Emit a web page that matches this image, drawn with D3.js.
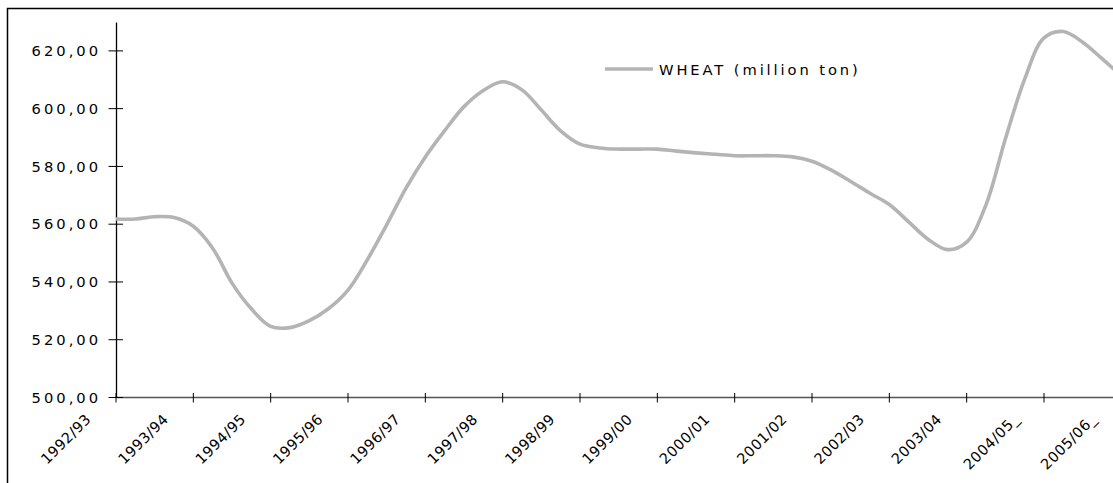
<!DOCTYPE html>
<html>
<head>
<meta charset="utf-8">
<script src="https://cdn.jsdelivr.net/npm/d3@7"></script>
<style>
  html, body { margin: 0; padding: 0; background: #fff; }
  svg { display: block; }
  text { font-family: "DejaVu Sans", Verdana, sans-serif; fill: #000; }
</style>
</head>
<body>
<svg id="chart" width="1113" height="483"></svg>
<script>
// Category labels (one per tick)
const categories = ["1992/93","1993/94","1994/95","1995/96","1996/97","1997/98","1998/99",
                    "1999/00","2000/01","2001/02","2002/03","2003/04","2004/05_","2005/06_"];
// Y-axis tick values
const yTicks = [500, 520, 540, 560, 580, 600, 620];
// Wheat production (million ton), read at quarter-category steps from 1992/93
const wheat = [
  561.8, 561.8, 562.6, 562.3,
  559.3, 551.7, 539.6, 530.7,
  524.6, 524.2, 526.6, 530.8,
  537.2, 547.7, 559.8, 572.5,
  583.3, 592.4, 600.7, 606.3,
  609.3, 606.5, 599.5, 592.3,
  587.7, 586.4, 586.0, 586.0,
  586.0, 585.3, 584.7, 584.2,
  583.7, 583.7, 583.7, 583.3,
  581.8, 578.7, 574.8, 570.7,
  566.8, 560.8, 554.8, 551.2,
  553.8, 566.7, 589.5, 610.2,
  624.5, 626.7, 623.0, 617.3,
  611.4
];
const stepsPerCategory = 4;
const seriesName = "WHEAT (million ton)";

const W = 1113, H = 483;
const svg = d3.select("#chart");

// category index -> pixel (1992/93 at the y axis, 2004/05_ at 1044; 2005/06_ just past the right edge)
const x = d3.scaleLinear().domain([0, 12]).range([116, 1044]);
const y = d3.scaleLinear().domain([500, 630]).range([397.5, 22]);

// outer frame (right and bottom edges fall outside the picture)
svg.append("rect").attr("x", 7.5).attr("y", 8.5).attr("width", 1300).attr("height", 700)
  .attr("fill", "none").attr("stroke", "#000").attr("stroke-width", 1.5);

// X axis line
svg.append("line").attr("x1", 116).attr("x2", W).attr("y1", y(500)).attr("y2", y(500))
  .attr("stroke", "#555").attr("stroke-width", 1.3);

const visible = categories.map((c, i) => i).filter(i => x(i) <= W);

// X ticks (crossing)
svg.append("g").selectAll("line").data(visible).join("line")
  .attr("x1", i => x(i)).attr("x2", i => x(i))
  .attr("y1", y(500) - 4.5).attr("y2", y(500) + 5)
  .attr("stroke", "#000").attr("stroke-width", 1);

// X labels, rotated
svg.append("g").selectAll("text").data(categories).join("text")
  .attr("transform", (d, i) => `translate(${x(i) - 24},${420}) rotate(-45)`)
  .attr("text-anchor", "end")
  .attr("font-size", 14.5)
  .style("letter-spacing", "0.5px")
  .text(d => d);

// Y axis
const yAxis = d3.axisLeft(y).tickValues(yTicks).tickSize(0).tickFormat(() => "");
const gy = svg.append("g").attr("transform", "translate(116,0)").call(yAxis);
gy.select(".domain").attr("stroke", "#000").attr("stroke-width", 1.3);
svg.append("g").selectAll("line").data(yTicks).join("line")
  .attr("x1", 108.5).attr("x2", 123).attr("y1", d => y(d)).attr("y2", d => y(d))
  .attr("stroke", "#000").attr("stroke-width", 1);
svg.append("g").selectAll("text").data(yTicks).join("text")
  .attr("x", 101).attr("y", d => y(d) + 5.3)
  .attr("text-anchor", "end")
  .attr("font-size", 14.7)
  .style("letter-spacing", "3px")
  .text(d => d3.format(".2f")(d).replace(".", ","));

// Line
const line = d3.line()
  .x((d, i) => x(i / stepsPerCategory))
  .y(d => y(d))
  .curve(d3.curveCatmullRom.alpha(0.5));

svg.append("defs").append("clipPath").attr("id", "clip")
  .append("rect").attr("x", 116).attr("y", 0).attr("width", W - 116).attr("height", H);

svg.append("path").datum(wheat)
  .attr("clip-path", "url(#clip)")
  .attr("d", line)
  .attr("fill", "none")
  .attr("stroke", "#b4b4b4")
  .attr("stroke-width", 3.6)
  .attr("stroke-linejoin", "round");

// Legend
svg.append("line").attr("x1", 605).attr("x2", 653).attr("y1", 69).attr("y2", 69)
  .attr("stroke", "#b4b4b4").attr("stroke-width", 3.6);
svg.append("text").attr("x", 659).attr("y", 75)
  .attr("font-size", 14.7)
  .style("letter-spacing", "2.9px")
  .text(seriesName);
</script>
</body>
</html>
